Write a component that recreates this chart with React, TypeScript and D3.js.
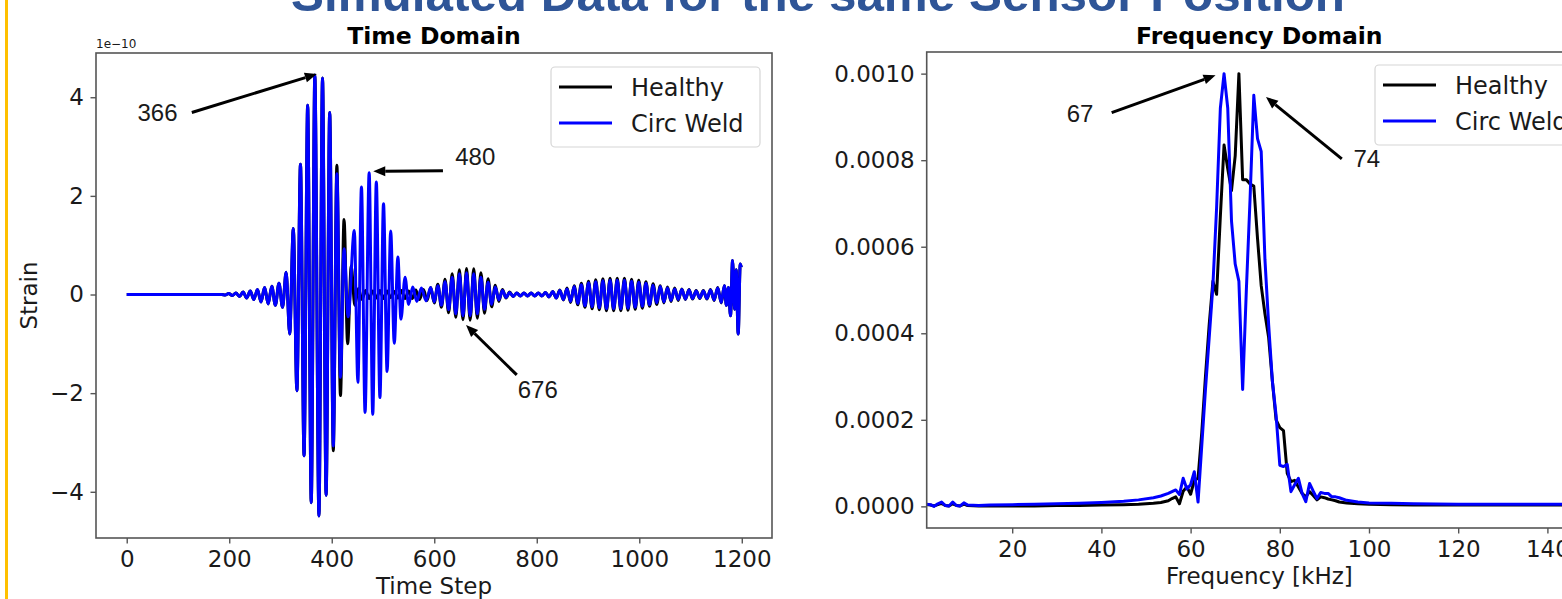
import React, { useEffect, useRef } from 'react';
import * as d3 from 'd3';

const WIDTH = 1562;
const HEIGHT = 599;
const FONT = "'DejaVu Sans', sans-serif";
const ARIAL = "'Liberation Sans', Arial, sans-serif";
const SPINE = "#555555";
const TEXT = "#1a1a1a";

const SERIES = ["Healthy", "Circ Weld"];
const COLOR = ["#000000", "#0000ff"];

// time domain: [time step, strain in 1e-10], read at each peak / trough
const EARLY_STRAIN = [
    [0, 0], [185, 0], [192, -0.01], [199, 0.02], [206, -0.02], [213, 0.03], [220, -0.04], [227, 0.05],
    [234, -0.07], [241, 0.07], [248, -0.1], [255, 0.1], [262, -0.15], [269, 0.14], [276, -0.19], [283, 0.17],
    [290, -0.22], [297, 0.23], [304, -0.26], [311, 0.45], [318, -0.8], [325, 1.34], [332, -1.95], [339, 2.64],
    [346, -3.27], [353, 3.84], [360, -4.22], [367, 4.45], [375, -4.49], [382, 4.39], [389, -4.07], [396, 3.69],
];
const HEALTHY_TAIL = [
    [403, -3.17], [410, 2.62], [417, -2.05], [424, 1.52], [431, -1.0], [438, 0.58], [445, -0.22], [452, 0.12],
    [459, -0.1], [466, 0.08], [473, -0.08], [480, 0.07], [487, -0.07], [494, 0.08], [501, -0.08], [508, 0.07],
    [515, -0.06], [522, 0.06], [529, -0.07], [536, 0.08], [543, -0.08], [550, 0.07], [557, -0.08], [564, 0.09],
    [571, -0.1], [579, 0.1], [586, -0.12], [593, 0.14], [600, -0.17], [607, 0.21], [614, -0.26], [621, 0.31],
    [628, -0.37], [635, 0.42], [642, -0.46], [649, 0.5], [656, -0.51], [663, 0.53], [670, -0.52], [677, 0.52],
    [684, -0.48], [691, 0.44], [698, -0.38], [705, 0.32], [712, -0.25], [719, 0.19], [726, -0.14], [733, 0.1],
    [740, -0.07], [747, 0.05], [754, -0.04], [761, 0.03], [768, -0.03], [775, 0.03], [782, -0.03], [789, 0.03],
    [796, -0.03], [803, 0.03], [810, -0.03], [817, 0.04], [824, -0.05], [831, 0.06], [838, -0.07], [845, 0.09],
    [852, -0.11], [859, 0.13], [866, -0.16], [873, 0.18], [880, -0.21], [887, 0.23], [894, -0.26], [901, 0.27],
    [908, -0.29], [915, 0.3], [922, -0.31], [929, 0.32], [936, -0.33], [943, 0.33], [950, -0.33], [957, 0.33],
    [964, -0.33], [971, 0.33], [978, -0.32], [985, 0.31], [992, -0.3], [999, 0.29], [1006, -0.28], [1013, 0.26],
    [1020, -0.24], [1027, 0.22], [1034, -0.2], [1041, 0.18], [1048, -0.17], [1055, 0.15], [1062, -0.14], [1069, 0.13],
    [1076, -0.12], [1083, 0.11], [1090, -0.1], [1097, 0.1], [1104, -0.09], [1111, 0.08], [1118, -0.08], [1125, 0.08],
    [1132, -0.09], [1139, 0.1], [1146, -0.12], [1153, 0.14], [1160, -0.17], [1166, 0.18], [1170, -0.22], [1174, 0.14],
    [1178, -0.43], [1182, 0.69], [1186, -0.3], [1189, 0.5], [1193, -0.8], [1197, 0.62], [1199, 0.55],
];
const CIRC_WELD_TAIL = [
    [403, -3.07], [410, 2.45], [417, -1.68], [424, 0.93], [432, -0.45], [444, 1.3], [451, -1.78], [458, 2.18],
    [465, -2.39], [473, 2.47], [480, -2.43], [487, 2.28], [494, -2.09], [501, 1.84], [508, -1.56], [515, 1.29],
    [522, -0.99], [529, 0.76], [535, -0.5], [543, 0.35], [550, -0.2], [558, 0.15], [566, -0.14], [575, 0.13],
    [584, -0.13], [593, 0.14], [600, -0.15], [607, 0.18], [614, -0.22], [621, 0.26], [628, -0.31], [635, 0.35],
    [642, -0.39], [649, 0.42], [656, -0.43], [663, 0.44], [670, -0.43], [677, 0.42], [684, -0.39], [691, 0.35],
    [698, -0.3], [705, 0.25], [712, -0.2], [719, 0.15], [726, -0.11], [733, 0.08], [740, -0.06], [747, 0.04],
    [754, -0.04], [761, 0.03], [768, -0.03], [775, 0.03], [782, -0.03], [789, 0.03], [796, -0.03], [803, 0.03],
    [810, -0.03], [817, 0.04], [824, -0.05], [831, 0.06], [838, -0.07], [845, 0.08], [852, -0.1], [859, 0.11],
    [866, -0.14], [873, 0.16], [880, -0.18], [887, 0.2], [894, -0.23], [901, 0.24], [908, -0.25], [915, 0.26],
    [922, -0.27], [929, 0.28], [936, -0.29], [943, 0.29], [950, -0.29], [957, 0.29], [964, -0.29], [971, 0.29],
    [978, -0.28], [985, 0.27], [992, -0.26], [999, 0.25], [1006, -0.24], [1013, 0.23], [1020, -0.21], [1027, 0.19],
    [1034, -0.17], [1041, 0.16], [1048, -0.15], [1055, 0.13], [1062, -0.12], [1069, 0.11], [1076, -0.1], [1083, 0.1],
    [1090, -0.09], [1097, 0.09], [1104, -0.08], [1111, 0.07], [1118, -0.07], [1125, 0.07], [1132, -0.08], [1139, 0.09],
    [1146, -0.11], [1153, 0.13], [1160, -0.16], [1166, 0.18], [1170, -0.22], [1174, 0.14], [1178, -0.43], [1182, 0.69],
    [1186, -0.3], [1189, 0.5], [1193, -0.8], [1197, 0.62], [1199, 0.55],
];
const TIME_TICKS = [0, 200, 400, 600, 800, 1000, 1200];
const STRAIN_TICKS = [-4, -2, 0, 2, 4];

// frequency domain: [kHz, amplitude in 1e-4]
const FREQ_HEALTHY = [
    [0.83, 0.04], [1.67, 0.03], [2.5, 0.01], [3.33, 0.04], [4.17, 0.07], [5.0, 0.02], [5.83, 0.01], [6.67, 0.06],
    [7.5, 0.02], [8.33, 0.01], [9.17, 0.05], [10.0, 0.02], [12.5, 0.01], [15.0, 0.01], [20.0, 0.01], [25.0, 0.01],
    [30.0, 0.02], [35.0, 0.02], [40.0, 0.03], [45.0, 0.04], [48.33, 0.05], [51.67, 0.07], [53.33, 0.09], [55.0, 0.13],
    [55.83, 0.18], [56.67, 0.22], [57.5, 0.06], [58.33, 0.35], [59.17, 0.45], [60.0, 0.28], [60.83, 0.6], [61.67, 0.65],
    [62.5, 1.7], [63.33, 3.0], [64.17, 4.2], [65.0, 5.2], [65.83, 4.9], [66.67, 6.7], [67.5, 8.35], [68.33, 7.8],
    [69.17, 7.3], [70.0, 8.1], [70.83, 10.0], [71.67, 7.55], [72.5, 7.55], [73.33, 7.45], [74.17, 7.4], [75.0, 6.2],
    [75.83, 5.1], [76.67, 4.45], [77.5, 3.9], [78.33, 2.9], [79.17, 2.0], [80.0, 1.82], [80.83, 1.75], [81.67, 0.76],
    [82.5, 0.57], [83.33, 0.6], [84.17, 0.45], [85.0, 0.3], [85.83, 0.22], [86.67, 0.34], [87.5, 0.25], [88.33, 0.15],
    [89.17, 0.22], [90.0, 0.2], [90.83, 0.17], [91.67, 0.15], [92.5, 0.13], [93.33, 0.1], [95.0, 0.08], [97.5, 0.06],
    [100, 0.05], [105, 0.04], [110, 0.03], [120, 0.03], [130, 0.03], [140, 0.03], [150, 0.03],
];
const FREQ_CIRC_WELD = [
    [0.83, 0.05], [1.67, 0.04], [2.5, 0.0], [3.33, 0.06], [4.17, 0.1], [5.0, 0.02], [5.83, 0.01], [6.67, 0.1],
    [7.5, 0.02], [8.33, 0.01], [9.17, 0.08], [10.0, 0.03], [12.5, 0.02], [15.0, 0.03], [20.0, 0.04], [25.0, 0.05],
    [30.0, 0.06], [35.0, 0.07], [40.0, 0.09], [45.0, 0.12], [48.33, 0.15], [51.67, 0.2], [53.33, 0.24], [55.0, 0.3],
    [55.83, 0.34], [56.67, 0.38], [57.5, 0.27], [58.33, 0.65], [59.17, 0.4], [60.0, 0.5], [60.83, 0.8], [61.67, 0.1],
    [62.5, 1.4], [63.33, 2.7], [64.17, 3.9], [65.0, 5.1], [65.83, 6.9], [66.67, 9.2], [67.5, 10.0], [68.33, 9.2],
    [69.17, 6.6], [70.0, 5.6], [70.83, 5.2], [71.67, 2.7], [72.5, 5.0], [73.33, 7.1], [74.17, 9.5], [75.0, 8.5],
    [75.83, 8.2], [76.67, 5.7], [77.5, 4.2], [78.33, 2.9], [79.17, 2.1], [80.0, 0.95], [80.83, 0.92], [81.67, 0.97],
    [82.5, 0.34], [83.33, 0.5], [84.17, 0.65], [85.0, 0.3], [85.83, 0.11], [86.67, 0.53], [87.5, 0.35], [88.33, 0.18],
    [89.17, 0.32], [90.0, 0.3], [90.83, 0.3], [91.67, 0.22], [92.5, 0.22], [93.33, 0.2], [95.0, 0.14], [97.5, 0.1],
    [100, 0.08], [105, 0.07], [110, 0.06], [120, 0.05], [130, 0.05], [140, 0.05], [150, 0.05],
];
const FREQ_TICKS = [20, 40, 60, 80, 100, 120, 140];
const AMP_TICKS = [0, 2, 4, 6, 8, 10];

// annotations: label, text centre, arrow tail, arrow head (data coords)
const TIME_NOTES = [
    { label: "366", text: [60, 3.7], tail: [127, 3.69], head: [371, 4.47] },
    { label: "480", text: [680, 2.81], tail: [617, 2.51], head: [481, 2.5] },
    { label: "676", text: [802, -1.92], tail: [761, -1.63], head: [662, -0.62] },
];
const FREQ_NOTES = [
    { label: "67", text: [35.2, 9.08], tail: [42.3, 9.1], head: [65.6, 9.96] },
    { label: "74", text: [99.5, 8.04], tail: [93.9, 8.03], head: [76.9, 9.46] },
];

function drawArrow(g, x, y, note) {
    const [tx, ty] = [x(note.tail[0]), y(note.tail[1])];
    const [hx, hy] = [x(note.head[0]), y(note.head[1])];
    const ang = Math.atan2(hy - ty, hx - tx);
    const len = 12, half = 5;
    const bx = hx - len * Math.cos(ang), by = hy - len * Math.sin(ang);
    g.append("line")
        .attr("x1", tx).attr("y1", ty).attr("x2", bx).attr("y2", by)
        .attr("stroke", "#000").attr("stroke-width", 3);
    g.append("path")
        .attr("d", `M${hx},${hy}L${bx + half * Math.sin(ang)},${by - half * Math.cos(ang)}L${bx - half * Math.sin(ang)},${by + half * Math.cos(ang)}Z`)
        .attr("fill", "#000");
    g.append("text")
        .attr("x", x(note.text[0])).attr("y", y(note.text[1]))
        .attr("dy", "0.36em")
        .attr("text-anchor", "middle")
        .attr("font-family", ARIAL).attr("font-size", 24).attr("fill", TEXT)
        .text(note.label);
}

function drawPanel(svg, p) {
    const g = svg.append("g");
    const [left, right] = p.x.range();
    const [bottom, top] = p.y.range();

    g.append("clipPath").attr("id", p.id).append("rect")
        .attr("x", left).attr("y", top).attr("width", right - left).attr("height", bottom - top);

    const line = d3.line().x(d => p.x(d[0])).y(d => p.y(d[1])).curve(p.curve);
    p.series.forEach((s, i) => {
        g.append("path")
            .attr("d", line(s))
            .attr("fill", "none")
            .attr("stroke", COLOR[i])
            .attr("stroke-width", 3)
            .attr("stroke-linejoin", "round")
            .attr("clip-path", `url(#${p.id})`);
    });

    g.append("rect")
        .attr("x", left).attr("y", top).attr("width", right - left).attr("height", bottom - top)
        .attr("fill", "none").attr("stroke", SPINE).attr("stroke-width", 1.6);

    const xAxis = g.append("g").attr("transform", `translate(0,${bottom})`)
        .call(d3.axisBottom(p.x).tickValues(p.xTicks).tickSize(5.5).tickPadding(7).tickFormat(d3.format("d")));
    const yAxis = g.append("g").attr("transform", `translate(${left},0)`)
        .call(d3.axisLeft(p.y).tickValues(p.yTicks).tickSize(5.5).tickPadding(6.5).tickFormat(p.yFormat));
    [xAxis, yAxis].forEach(a => {
        a.select(".domain").remove();
        a.attr("font-family", FONT).attr("font-size", 23);
        a.selectAll(".tick line").attr("stroke", SPINE).attr("stroke-width", 1.4);
        a.selectAll(".tick text").attr("fill", TEXT);
    });

    const cx = (left + right) / 2;
    g.append("text")
        .attr("x", cx).attr("y", 44)
        .attr("text-anchor", "middle")
        .attr("font-family", FONT).attr("font-weight", "bold").attr("font-size", 23.5).attr("fill", "#000")
        .text(p.title);
    g.append("text")
        .attr("x", cx).attr("y", p.xLabelY)
        .attr("text-anchor", "middle")
        .attr("font-family", FONT).attr("font-size", 23).attr("fill", TEXT)
        .text(p.xLabel);
    if (p.yLabel) {
        g.append("text")
            .attr("transform", `translate(37,${(top + bottom) / 2}) rotate(-90)`)
            .attr("text-anchor", "middle")
            .attr("font-family", FONT).attr("font-size", 23).attr("fill", TEXT)
            .text(p.yLabel);
    }

    // legend
    const lx = p.legend[0], ly = p.legend[1];
    g.append("rect")
        .attr("x", lx).attr("y", ly).attr("width", 209).attr("height", 80).attr("rx", 4)
        .attr("fill", "#fff").attr("fill-opacity", 0.8).attr("stroke", "#d6d6d6").attr("stroke-width", 1.2);
    SERIES.forEach((name, i) => {
        const ry = ly + 20 + i * 36;
        g.append("line")
            .attr("x1", lx + 8).attr("x2", lx + 61).attr("y1", ry).attr("y2", ry)
            .attr("stroke", COLOR[i]).attr("stroke-width", 3);
        g.append("text")
            .attr("x", lx + 80).attr("y", ry).attr("dy", "0.36em")
            .attr("font-family", FONT).attr("font-size", 24).attr("fill", TEXT)
            .text(name);
    });

    p.notes.forEach(n => drawArrow(g, p.x, p.y, n));
}

export default function App() {
    const svgRef = useRef(null);

    useEffect(() => {
        if (!svgRef.current) return;
        const svg = d3.select(svgRef.current);
        svg.selectAll("*").remove();

        svg.append("rect").attr("width", WIDTH).attr("height", HEIGHT).attr("fill", "#fff");
        svg.append("rect").attr("x", 5).attr("y", 0).attr("width", 3).attr("height", HEIGHT).attr("fill", "#ffc000");
        svg.append("text")
            .attr("x", 818).attr("y", 11)
            .attr("text-anchor", "middle")
            .attr("font-family", ARIAL).attr("font-weight", "bold").attr("font-size", 49)
            .attr("textLength", 1054).attr("lengthAdjust", "spacingAndGlyphs")
            .attr("fill", "#2f5597")
            .text("Simulated Data for the same Sensor Position");

        const healthy = EARLY_STRAIN.concat(HEALTHY_TAIL);
        const circWeld = EARLY_STRAIN.concat(CIRC_WELD_TAIL);
        const tExtent = d3.extent(healthy, d => d[0]);
        const sExtent = d3.extent(healthy.concat(circWeld), d => d[1]);
        const tPad = (tExtent[1] - tExtent[0]) * 0.05;
        const sPad = (sExtent[1] - sExtent[0]) * 0.05;

        const xTime = d3.scaleLinear().domain([tExtent[0] - tPad, tExtent[1] + tPad]).range([96, 772]);
        const yTime = d3.scaleLinear().domain([sExtent[0] - sPad, sExtent[1] + sPad]).range([538, 53]);

        drawPanel(svg, {
            id: "clip-time",
            x: xTime, y: yTime,
            xTicks: TIME_TICKS, yTicks: STRAIN_TICKS, yFormat: d3.format("d"),
            series: [healthy, circWeld],
            curve: d3.curveMonotoneX,
            title: "Time Domain", xLabel: "Time Step", xLabelY: 594, yLabel: "Strain",
            legend: [551, 67],
            notes: TIME_NOTES,
        });
        svg.append("text")
            .attr("x", 96).attr("y", 48)
            .attr("font-family", FONT).attr("font-size", 12).attr("fill", TEXT)
            .text("1e\u221210");

        const aMax = d3.max(FREQ_HEALTHY.concat(FREQ_CIRC_WELD), d => d[1]);
        const xFreq = d3.scaleLinear().domain([FREQ_HEALTHY[0][0], 150]).range([926.7, 1592]);
        const yFreq = d3.scaleLinear().domain([-aMax * 0.05, aMax * 1.05]).range([528, 52]);

        drawPanel(svg, {
            id: "clip-freq",
            x: xFreq, y: yFreq,
            xTicks: FREQ_TICKS, yTicks: AMP_TICKS, yFormat: v => d3.format(".4f")(v * 1e-4),
            series: [FREQ_HEALTHY, FREQ_CIRC_WELD],
            curve: d3.curveLinear,
            title: "Frequency Domain", xLabel: "Frequency [kHz]", xLabelY: 584, yLabel: null,
            legend: [1375, 65],
            notes: FREQ_NOTES,
        });
    }, []);

    return (
        <svg ref={svgRef} width={WIDTH} height={HEIGHT}
            style={{ position: "absolute", left: 0, top: 0, display: "block" }} />
    );
}
